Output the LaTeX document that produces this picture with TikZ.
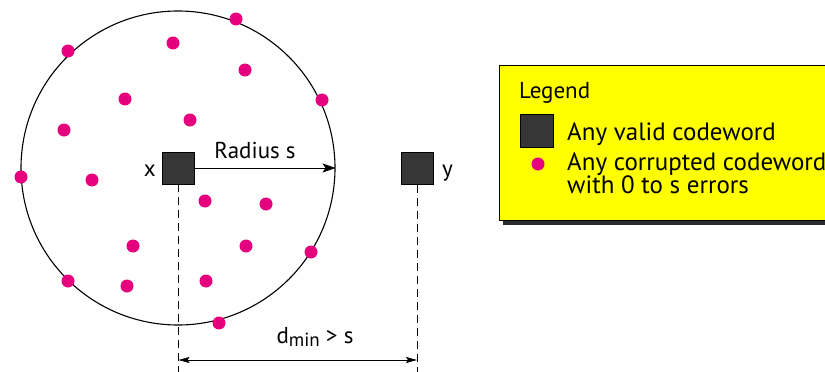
\documentclass[tikz,border=0pt]{standalone}
\usepackage{fontspec}
\setmainfont{PT Sans}
\usetikzlibrary{arrows.meta}
\definecolor{dotpink}{HTML}{E6007E}
\definecolor{cwgray}{HTML}{363636}
\definecolor{legyellow}{HTML}{FFFF00}
\definecolor{shadowgray}{HTML}{2A2A2A}
\begin{document}
\begin{tikzpicture}[x=1pt,y=-1pt,
  codeword/.style={draw=black, line width=0.7pt, fill=cwgray, minimum size=32pt, inner sep=0pt},
  errdot/.style={circle, fill=dotpink, minimum size=13pt, inner sep=0pt},
  lbl/.style={font=\fontsize{23}{27}\selectfont, inner sep=0pt},
  leg/.style={font=\fontsize{25}{29}\selectfont, inner sep=0pt, anchor=base west},
  guide/.style={line width=0.7pt, dash pattern=on 8pt off 5pt},
  arr/.style={line width=0.9pt, -{Stealth[length=13pt,width=9pt,inset=3pt]}},
  dimarr/.style={line width=0.7pt, {Stealth[length=11pt,width=6pt,inset=2pt]}-{Stealth[length=11pt,width=6pt,inset=2pt]}}
]
\useasboundingbox (0,0) rectangle (825,372);
\fill[white] (0,0) rectangle (825,372);

% sphere
\node[circle, draw, line width=1.1pt, minimum size=314pt, inner sep=0pt] (sphere) at (178,168) {};

% corrupted codewords
\foreach \n/\px/\py in {1/68/51, 2/236/19, 3/173/43, 4/245/70, 5/322/100, 6/125/99,
  7/190/120, 8/64/130, 9/21/177, 10/92/180, 11/205/201, 12/266/204, 13/133/246,
  14/246/246, 15/311/252, 16/68/281, 17/127/286, 18/206/281, 19/219/323}
  \node[errdot] (e\n) at (\px,\py) {};

% valid codewords
\node[codeword] (x) at (178.5,168) {};
\node[codeword] (y) at (417,168.5) {};
\node[lbl, anchor=base east] (xl) at (156,176) {x};
\node[lbl, anchor=base west] (yl) at (442,176) {y};

% radius arrow
\draw[arr] (x.east) -- (sphere.east);
\node[lbl, anchor=base] (rl) at (255,158) {Radius s};

% guides and distance
\coordinate (xb) at (178.5,372);
\coordinate (yb) at (417,372);
\draw[guide] (x.south) -- (xb);
\draw[guide] (y.south) -- (yb);
\coordinate (dl) at (178.5,360);
\coordinate (dr) at (417,360);
\draw[dimarr] (dl) -- (dr);
\node[lbl, anchor=base] (dm) at (315,343) {d\raisebox{-0.3ex}{\fontsize{19}{22}\selectfont min} > s};

% legend
\fill[shadowgray] (503,70) rectangle (850,225);
\draw[fill=legyellow, line width=0.8pt] (499,65) rectangle (845,220);
\node[lbl, anchor=base west] (lt) at (519,98) {Legend};
\node[codeword, minimum size=33pt] (lsq) at (537,131) {};
\node[leg] (l1) at (567,140) {Any valid codeword};
\node[errdot] (ldot) at (538,164) {};
\node[leg] (l2) at (567,170) {Any corrupted codeword};
\node[leg] (l3) at (567,193) {with 0 to s errors};
\end{tikzpicture}
\end{document}
